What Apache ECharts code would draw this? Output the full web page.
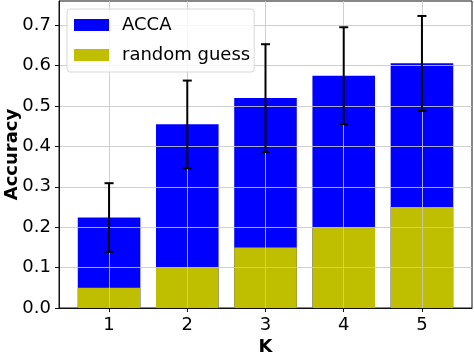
<!DOCTYPE html>
<html>
<head>
<meta charset="utf-8">
<script src="https://cdn.jsdelivr.net/npm/echarts@6/dist/echarts.min.js"></script>
<style>
html, body { margin: 0; padding: 0; background: #fff; }
#chart { width: 474px; height: 352px; }
</style>
</head>
<body>
<div id="chart"></div>
<script>
// data
var kValues = [1, 2, 3, 4, 5];
var accaValues = [0.224, 0.455, 0.52, 0.575, 0.606];
var accaErrLow = [0.139, 0.346, 0.386, 0.455, 0.488];
var accaErrHigh = [0.309, 0.563, 0.653, 0.695, 0.723];
var randomValues = [0.05, 0.1, 0.15, 0.2, 0.25];
var yTicks = [0, 0.1, 0.2, 0.3, 0.4, 0.5, 0.6, 0.7];

var font = 'DejaVu Sans';

var accaData = kValues.map(function (k, i) { return [k, accaValues[i]]; });
var randomData = kValues.map(function (k, i) { return [k, randomValues[i]]; });
var errData = kValues.map(function (k, i) { return [k, accaErrLow[i], accaErrHigh[i]]; });

var chart = echarts.init(document.getElementById('chart'));
var gridLine = { show: true, lineStyle: { color: 'rgba(200,200,200,0.85)', width: 1 } };

var option = {
  animation: false,
  textStyle: { fontFamily: font },
  grid: {
    left: 59, right: 2, top: 1, bottom: 44,
    outerBoundsMode: 'none',
    containLabel: false,
    show: true, borderColor: '#111', borderWidth: 1, backgroundColor: '#fff'
  },
  legend: {
    orient: 'vertical',
    left: 67, top: 9,
    itemWidth: 35, itemHeight: 12, itemGap: 12,
    padding: [7, 4, 8, 7],
    backgroundColor: 'rgba(255,255,255,0.8)',
    borderColor: '#d8d8d8', borderWidth: 1, borderRadius: 3,
    textStyle: { fontFamily: font, fontSize: 18, lineHeight: 14, color: '#000', padding: [0, 0, 0, 8] },
    data: [
      { name: 'ACCA', icon: 'rect' },
      { name: 'random guess', icon: 'rect' }
    ]
  },
  xAxis: {
    type: 'value',
    min: 0.36, max: 5.64,
    z: 3,
    name: 'K',
    nameLocation: 'middle',
    nameGap: 30,
    nameMoveOverlap: false,
    nameTextStyle: { fontFamily: font, fontSize: 18, fontWeight: 'bold', color: '#000' },
    axisLine: { show: true, lineStyle: { color: '#111', width: 1 } },
    axisTick: { show: true, length: 4, lineStyle: { color: '#111' }, customValues: kValues },
    axisLabel: { fontFamily: font, fontSize: 18, color: '#000', margin: 8, customValues: kValues },
    splitLine: gridLine
  },
  yAxis: {
    type: 'value',
    min: 0, max: 0.76,
    z: 3,
    name: 'Accuracy',
    nameLocation: 'middle',
    nameGap: 38,
    nameMoveOverlap: false,
    nameTextStyle: { fontFamily: font, fontSize: 18, fontWeight: 'bold', color: '#000' },
    axisLine: { show: true, lineStyle: { color: '#111', width: 1 } },
    axisTick: { show: true, length: 4, lineStyle: { color: '#111' }, customValues: yTicks },
    axisLabel: {
      fontFamily: font, fontSize: 18, color: '#000', margin: 8,
      customValues: yTicks,
      formatter: function (v) { return v.toFixed(1); }
    },
    splitLine: gridLine
  },
  series: [
    {
      name: 'ACCA',
      type: 'bar',
      z: 1,
      barWidth: '80%',
      barGap: '-100%',
      itemStyle: { color: '#0000ff' },
      data: accaData
    },
    {
      name: 'random guess',
      type: 'bar',
      z: 1,
      barWidth: '80%',
      barGap: '-100%',
      itemStyle: { color: '#bfbf00' },
      data: randomData
    },
    {
      name: 'err',
      type: 'custom',
      z: 5,
      data: errData,
      encode: { x: 0, y: [1, 2] },
      renderItem: function (params, api) {
        var lo = api.coord([api.value(0), api.value(1)]);
        var hi = api.coord([api.value(0), api.value(2)]);
        var cap = 4.5;
        var style = { stroke: '#000', lineWidth: 2 };
        return {
          type: 'group',
          children: [
            { type: 'line', shape: { x1: lo[0], y1: lo[1], x2: hi[0], y2: hi[1] }, style: style },
            { type: 'line', shape: { x1: lo[0] - cap, y1: lo[1], x2: lo[0] + cap, y2: lo[1] }, style: style },
            { type: 'line', shape: { x1: hi[0] - cap, y1: hi[1], x2: hi[0] + cap, y2: hi[1] }, style: style }
          ]
        };
      }
    }
  ]
};
chart.setOption(option);
</script>
</body>
</html>
